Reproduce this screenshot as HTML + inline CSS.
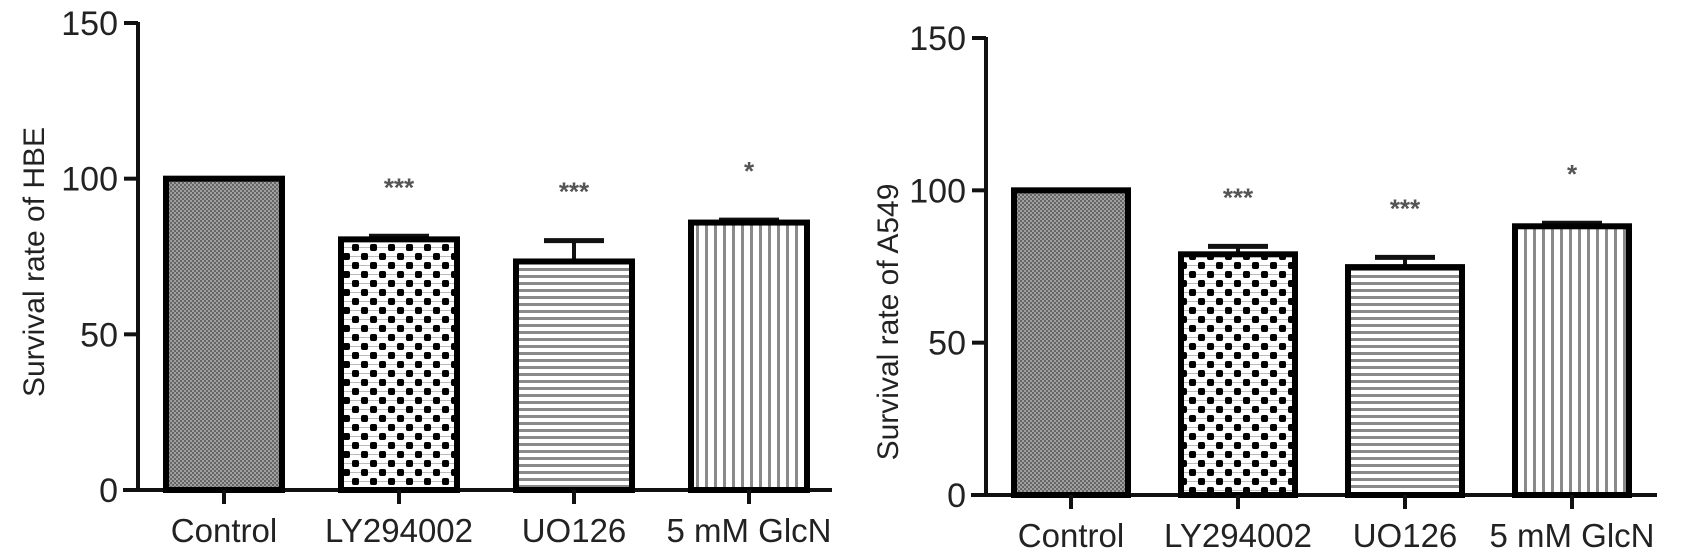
<!DOCTYPE html>
<html><head><meta charset="utf-8">
<style>
html,body{margin:0;padding:0;background:#fff;}
svg{display:block;font-family:"Liberation Sans",Arial,sans-serif;}
</style></head>
<body>
<svg id="chart" width="1682" height="558" viewBox="0 0 1682 558" xmlns="http://www.w3.org/2000/svg">
<defs>
  <pattern id="pCtrl" width="4" height="4" patternUnits="userSpaceOnUse">
    <rect width="4" height="4" fill="#a0a0a0"/>
    <rect width="2" height="2" fill="#666"/>
    <rect x="2" y="2" width="2" height="2" fill="#666"/>
  </pattern>
  <pattern id="pLY" width="18" height="18" patternUnits="userSpaceOnUse">
    <rect width="18" height="18" fill="#fff"/>
    <rect x="0" y="4" width="18" height="1" fill="#bbb"/>
    <rect x="0" y="13" width="18" height="1" fill="#bbb"/>
    <rect x="1" y="1" width="7" height="7" rx="2" fill="#000"/>
    <rect x="10" y="10" width="7" height="7" rx="2" fill="#000"/>
  </pattern>
  <pattern id="pUO" width="8" height="7" patternUnits="userSpaceOnUse">
    <rect width="8" height="7" fill="#fff"/>
    <rect y="2" width="8" height="3" fill="#8a8a8a"/>
  </pattern>
  <pattern id="pGl" width="9" height="8" patternUnits="userSpaceOnUse">
    <rect width="9" height="8" fill="#fff"/>
    <rect x="3" width="3" height="8" fill="#8a8a8a"/>
  </pattern>
</defs>
</svg>
<script>
const categories = ["Control","LY294002","UO126","5 mM GlcN"];
const hbeValues = [100, 80.5, 73.4, 85.9];
const hbeErrors = [0, 1, 6.7, 0.8];
const hbeStars = ["", "***", "***", "*"];
const a549Values = [100, 79, 74.8, 88.2];
const a549Errors = [0, 2.6, 3.2, 1.0];
const a549Stars = ["", "***", "***", "*"];
const yTicks = [0, 50, 100, 150];

const NS = "http://www.w3.org/2000/svg";
const svg = document.getElementById("chart");
const fills = ["url(#pCtrl)","url(#pLY)","url(#pUO)","url(#pGl)"];

function mk(tag, attrs, parent){
  const e = document.createElementNS(NS, tag);
  for (const k in attrs) e.setAttribute(k, attrs[k]);
  (parent||svg).appendChild(e);
  return e;
}

function drawPanel(p){
  const g = mk("g", {});
  
  
  const y = v => p.y0 - (v/150)*(p.y0 - p.y150);
  const x = i => p.x0 + i*p.step;
  const ya = mk("line", {x1:p.ax, y1:y(150)-1, x2:p.ax, y2:p.y0, stroke:"#111", "stroke-width":4}, g);
  
  
  yTicks.forEach(t=>{
    const tk = mk("line", {x1:p.ax-14, y1:y(t), x2:p.ax, y2:y(t), stroke:"#111", "stroke-width":4}, g);
    
    
    const tl = mk("text", {x:p.ax-20, y:y(t)+12, "text-anchor":"end", "font-size":34, fill:"#222"}, g);
    tl.textContent = t;
    
    
  });
  const xa = mk("line", {x1:p.ax-15, y1:p.y0, x2:p.xEnd, y2:p.y0, stroke:"#111", "stroke-width":4}, g);
  
  
  const yt = mk("text", {x:0, y:0, "text-anchor":"middle", "font-size":30, fill:"#222",
    transform:`translate(${p.titleX},${p.titleY}) rotate(-90)`}, g);
  yt.textContent = p.title;
  
  
  categories.forEach((c,i)=>{
    const cx = x(i), v = p.values[i], e = p.errors[i];
    if (e > 0) {
      const el = mk("line", {x1:cx, y1:y(v+e), x2:cx, y2:y(v), stroke:"#111", "stroke-width":4}, g);
      
      
      const ec = mk("line", {x1:cx-30, y1:y(v+e), x2:cx+30, y2:y(v+e), stroke:"#111", "stroke-width":5}, g);
      
      
    }
    const b = mk("rect", {x:cx-p.bw/2, y:y(v), width:p.bw, height:p.y0-y(v), fill:fills[i], stroke:"#000", "stroke-width":6}, g);
    
    
    const xt = mk("line", {x1:cx, y1:p.y0, x2:cx, y2:p.y0+14, stroke:"#111", "stroke-width":4}, g);
    
    
    const xl = mk("text", {x:cx, y:p.y0+52, "text-anchor":"middle", "font-size":33, fill:"#222"}, g);
    xl.textContent = c;
    
    
    if (p.stars[i]) {
      const st = mk("text", {x:cx, y:y(v+e)-40, "text-anchor":"middle", "font-size":26, "font-weight":"bold", fill:"#555"}, g);
      st.textContent = p.stars[i];
      
      
    }
  });
}

drawPanel({name:"hbe-chart", ax:138, y0:490, y150:23, x0:224, step:175, bw:116, xEnd:832,
  values:hbeValues, errors:hbeErrors, stars:hbeStars, title:"Survival rate of HBE", titleX:44, titleY:262});
drawPanel({name:"a549-chart", ax:986, y0:495, y150:38, x0:1071, step:167, bw:114, xEnd:1657,
  values:a549Values, errors:a549Errors, stars:a549Stars, title:"Survival rate of A549", titleX:898, titleY:322});
</script>
</body></html>
